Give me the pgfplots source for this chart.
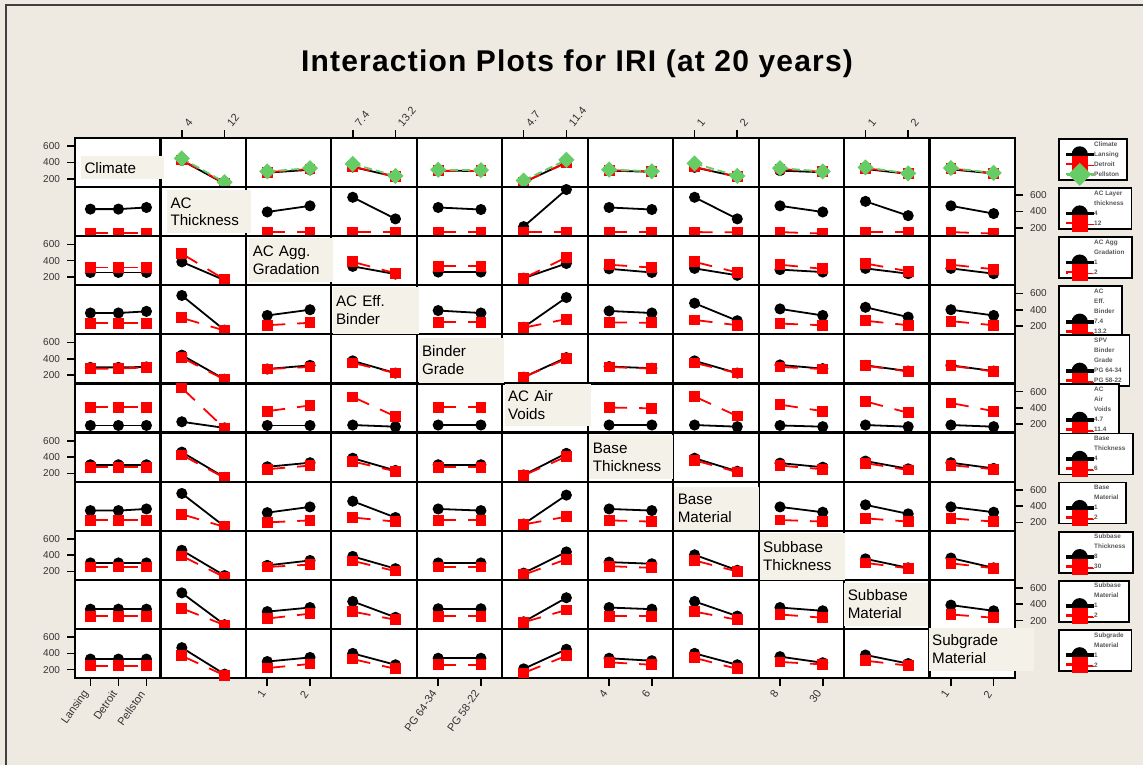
\documentclass[border=0pt]{standalone}
\usepackage{pgfplots}
\pgfplotsset{compat=1.18}
\usepackage{fontspec}
\setmainfont{Liberation Sans}
\newfontfamily\titlefont[LetterSpace=4]{Liberation Sans}
\definecolor{bgc}{HTML}{EEEAE1}
\definecolor{boxc}{HTML}{F4F2E8}
\definecolor{grn}{HTML}{66CC66}
\definecolor{tk}{HTML}{333333}

\pgfplotsset{
  cell/.style={scale only axis, width=42.727pt, height=24.545pt, anchor=north west,
    xmin=0.5, xmax=2.5, ymin=98, ymax=700, xtick=\empty, ytick=\empty,
    axis line style={line width=1.1pt}, axis background/.style={fill=white},
    tick align=outside, major tick length=4pt, tick style={black, line width=0.8pt},
    /pgf/number format/assume math mode=true,
    yticklabel style={font=\fontsize{5}{6}\selectfont, text=tk},
    xticklabel style={font=\fontsize{5.5}{6}\selectfont, text=tk}},
  pos/.style 2 args={at={(37.5pt+42.727pt*#2-42.727pt,-69pt-24.545pt*#1+24.545pt)}},
  c1/.style={xmin=0.45, xmax=3.5},
  yl/.style={ytick={200,400,600}, ytick pos=left, yticklabel pos=left},
  yr/.style={ytick={200,400,600}, ytick pos=right, yticklabel pos=right},
  xt/.style={xtick={1,2}, xticklabels={#1}, xtick pos=right, xticklabel pos=right,
    xticklabel style={rotate=50, anchor=west}},
  xb/.style={xtick={1,2}, xticklabels={#1}, xtick pos=left, xticklabel pos=left,
    xticklabel style={rotate=55, anchor=east}},
  s1/.style={black, line width=0.9pt, mark=*, mark size=2.3pt, mark options={solid}},
  s2/.style={red, line width=0.9pt, dash pattern=on 9pt off 6pt, mark=square*, mark size=2.25pt, mark options={solid}},
  s3/.style={grn, line width=0.9pt, dash pattern=on 4pt off 2pt, mark=square*, mark size=2.4pt, mark options={solid, rotate=45}},
  lg/.style={legend style={at={(1.5,1)}, anchor=north west, draw=black, line width=0.9pt,
      fill=white, font=\fontsize{3.2}{3.2}\selectfont\bfseries, text=black!65,
      inner xsep=3.6pt, inner ysep=1pt, row sep=1.5pt,
      nodes={inner sep=0.3pt, text height=2.3pt, text depth=0.6pt}},
    legend cell align=left,
    legend image code/.code={\path (0pt,-0.5pt) rectangle (13pt,0.5pt);
      \draw[overlay,mark repeat=2,mark phase=2,mark size=3.6pt] plot coordinates {(0pt,0pt) (6.5pt,0pt) (13pt,0pt)};}},
}
\tikzset{lbl/.style={fill=boxc, anchor=north west, inner xsep=1.7pt, inner ysep=0pt, align=left,
  font=\fontsize{7.6}{8.85}\selectfont}}

\begin{document}
\begin{tikzpicture}
\useasboundingbox (0,0) rectangle (571.5pt,-382.5pt);
\fill[bgc] (0,0) rectangle (571.5pt,-382.5pt);
\draw[black!75, line width=0.8pt] (3pt,-382.5pt) -- (3pt,-2.5pt) -- (571.5pt,-2.5pt);
\node[font=\titlefont\bfseries\fontsize{15}{18}\selectfont, anchor=base] at (288.5pt,-35.8pt) {Interaction Plots for IRI (at 20 years)};

% ---------- row 1: Climate
\begin{axis}[cell,pos={1}{1},c1,yl]
\end{axis}
\begin{axis}[cell,pos={1}{2},xt={4,12}]
\addplot[s1] coordinates {(1,425) (2,140)};
\addplot[s2] coordinates {(1,430) (2,145)};
\addplot[s3] coordinates {(1,450) (2,158)};
\end{axis}
\begin{axis}[cell,pos={1}{3}]
\addplot[s1] coordinates {(1,275) (2,310)};
\addplot[s2] coordinates {(1,280) (2,320)};
\addplot[s3] coordinates {(1,290) (2,330)};
\end{axis}
\begin{axis}[cell,pos={1}{4},xt={7.4,13.2}]
\addplot[s1] coordinates {(1,345) (2,225)};
\addplot[s2] coordinates {(1,350) (2,225)};
\addplot[s3] coordinates {(1,382) (2,235)};
\end{axis}
\begin{axis}[cell,pos={1}{5}]
\addplot[s1] coordinates {(1,300) (2,295)};
\addplot[s2] coordinates {(1,300) (2,300)};
\addplot[s3] coordinates {(1,310) (2,305)};
\end{axis}
\begin{axis}[cell,pos={1}{6},xt={4.7,11.4}]
\addplot[s1] coordinates {(1,155) (2,400)};
\addplot[s2] coordinates {(1,160) (2,395)};
\addplot[s3] coordinates {(1,178) (2,432)};
\end{axis}
\begin{axis}[cell,pos={1}{7}]
\addplot[s1] coordinates {(1,300) (2,285)};
\addplot[s2] coordinates {(1,305) (2,290)};
\addplot[s3] coordinates {(1,312) (2,292)};
\end{axis}
\begin{axis}[cell,pos={1}{8},xt={1,2}]
\addplot[s1] coordinates {(1,340) (2,225)};
\addplot[s2] coordinates {(1,345) (2,225)};
\addplot[s3] coordinates {(1,388) (2,235)};
\end{axis}
\begin{axis}[cell,pos={1}{9}]
\addplot[s1] coordinates {(1,300) (2,280)};
\addplot[s2] coordinates {(1,320) (2,285)};
\addplot[s3] coordinates {(1,330) (2,290)};
\end{axis}
\begin{axis}[cell,pos={1}{10},xt={1,2}]
\addplot[s1] coordinates {(1,320) (2,260)};
\addplot[s2] coordinates {(1,330) (2,262)};
\addplot[s3] coordinates {(1,340) (2,265)};
\end{axis}
\begin{axis}[cell,pos={1}{11},lg]
\addlegendimage{empty legend}\addlegendentry{Climate}
\addplot[s1] coordinates {(1,315) (2,265)};\addlegendentry{Lansing}
\addplot[s2] coordinates {(1,325) (2,268)};\addlegendentry{Detroit}
\addplot[s3] coordinates {(1,332) (2,272)};\addlegendentry{Pellston}
\end{axis}

% ---------- row 2: AC Thickness
\begin{axis}[cell,pos={2}{1},c1]
\addplot[s1] coordinates {(1,430) (2,430) (3,450)};
\addplot[s2] coordinates {(1,135) (2,135) (3,135)};
\end{axis}
\begin{axis}[cell,pos={2}{2}]
\end{axis}
\begin{axis}[cell,pos={2}{3}]
\addplot[s1] coordinates {(1,395) (2,470)};
\addplot[s2] coordinates {(1,145) (2,145)};
\end{axis}
\begin{axis}[cell,pos={2}{4}]
\addplot[s1] coordinates {(1,575) (2,310)};
\addplot[s2] coordinates {(1,145) (2,145)};
\end{axis}
\begin{axis}[cell,pos={2}{5}]
\addplot[s1] coordinates {(1,450) (2,425)};
\addplot[s2] coordinates {(1,145) (2,145)};
\end{axis}
\begin{axis}[cell,pos={2}{6}]
\addplot[s1] coordinates {(1,215) (2,670)};
\addplot[s2] coordinates {(1,148) (2,148)};
\end{axis}
\begin{axis}[cell,pos={2}{7}]
\addplot[s1] coordinates {(1,450) (2,425)};
\addplot[s2] coordinates {(1,145) (2,145)};
\end{axis}
\begin{axis}[cell,pos={2}{8}]
\addplot[s1] coordinates {(1,575) (2,310)};
\addplot[s2] coordinates {(1,148) (2,145)};
\end{axis}
\begin{axis}[cell,pos={2}{9}]
\addplot[s1] coordinates {(1,470) (2,395)};
\addplot[s2] coordinates {(1,148) (2,130)};
\end{axis}
\begin{axis}[cell,pos={2}{10}]
\addplot[s1] coordinates {(1,525) (2,350)};
\addplot[s2] coordinates {(1,148) (2,148)};
\end{axis}
\begin{axis}[cell,pos={2}{11},yr,lg]
\addlegendimage{empty legend}\addlegendentry{AC Layer}
\addlegendimage{empty legend}\addlegendentry{thickness}
\addplot[s1] coordinates {(1,470) (2,375)};\addlegendentry{4}
\addplot[s2] coordinates {(1,148) (2,130)};\addlegendentry{12}
\end{axis}

% ---------- row 3: AC Agg. Gradation
\begin{axis}[cell,pos={3}{1},c1,yl]
\addplot[s1] coordinates {(1,255) (2,255) (3,255)};
\addplot[s2] coordinates {(1,315) (2,315) (3,315)};
\end{axis}
\begin{axis}[cell,pos={3}{2}]
\addplot[s1] coordinates {(1,385) (2,160)};
\addplot[s2] coordinates {(1,485) (2,170)};
\end{axis}
\begin{axis}[cell,pos={3}{3}]
\end{axis}
\begin{axis}[cell,pos={3}{4}]
\addplot[s1] coordinates {(1,330) (2,235)};
\addplot[s2] coordinates {(1,385) (2,245)};
\end{axis}
\begin{axis}[cell,pos={3}{5}]
\addplot[s1] coordinates {(1,260) (2,260)};
\addplot[s2] coordinates {(1,330) (2,330)};
\end{axis}
\begin{axis}[cell,pos={3}{6}]
\addplot[s1] coordinates {(1,185) (2,365)};
\addplot[s2] coordinates {(1,185) (2,440)};
\end{axis}
\begin{axis}[cell,pos={3}{7}]
\addplot[s1] coordinates {(1,300) (2,255)};
\addplot[s2] coordinates {(1,350) (2,315)};
\end{axis}
\begin{axis}[cell,pos={3}{8}]
\addplot[s1] coordinates {(1,305) (2,220)};
\addplot[s2] coordinates {(1,385) (2,255)};
\end{axis}
\begin{axis}[cell,pos={3}{9}]
\addplot[s1] coordinates {(1,290) (2,260)};
\addplot[s2] coordinates {(1,350) (2,300)};
\end{axis}
\begin{axis}[cell,pos={3}{10}]
\addplot[s1] coordinates {(1,305) (2,240)};
\addplot[s2] coordinates {(1,365) (2,270)};
\end{axis}
\begin{axis}[cell,pos={3}{11},lg]
\addlegendimage{empty legend}\addlegendentry{AC Agg}
\addlegendimage{empty legend}\addlegendentry{Gradation}
\addplot[s1] coordinates {(1,305) (2,240)};\addlegendentry{1}
\addplot[s2] coordinates {(1,350) (2,295)};\addlegendentry{2}
\end{axis}

% ---------- row 4: AC Eff. Binder
\begin{axis}[cell,pos={4}{1},c1]
\addplot[s1] coordinates {(1,360) (2,360) (3,380)};
\addplot[s2] coordinates {(1,235) (2,235) (3,235)};
\end{axis}
\begin{axis}[cell,pos={4}{2}]
\addplot[s1] coordinates {(1,575) (2,150)};
\addplot[s2] coordinates {(1,300) (2,145)};
\end{axis}
\begin{axis}[cell,pos={4}{3}]
\addplot[s1] coordinates {(1,330) (2,400)};
\addplot[s2] coordinates {(1,210) (2,240)};
\end{axis}
\begin{axis}[cell,pos={4}{4}]
\end{axis}
\begin{axis}[cell,pos={4}{5}]
\addplot[s1] coordinates {(1,390) (2,360)};
\addplot[s2] coordinates {(1,245) (2,245)};
\end{axis}
\begin{axis}[cell,pos={4}{6}]
\addplot[s1] coordinates {(1,185) (2,550)};
\addplot[s2] coordinates {(1,180) (2,285)};
\end{axis}
\begin{axis}[cell,pos={4}{7}]
\addplot[s1] coordinates {(1,385) (2,360)};
\addplot[s2] coordinates {(1,245) (2,240)};
\end{axis}
\begin{axis}[cell,pos={4}{8}]
\addplot[s1] coordinates {(1,480) (2,265)};
\addplot[s2] coordinates {(1,275) (2,210)};
\end{axis}
\begin{axis}[cell,pos={4}{9}]
\addplot[s1] coordinates {(1,410) (2,330)};
\addplot[s2] coordinates {(1,230) (2,210)};
\end{axis}
\begin{axis}[cell,pos={4}{10}]
\addplot[s1] coordinates {(1,430) (2,310)};
\addplot[s2] coordinates {(1,265) (2,210)};
\end{axis}
\begin{axis}[cell,pos={4}{11},yr,lg]
\addlegendimage{empty legend}\addlegendentry{AC}
\addlegendimage{empty legend}\addlegendentry{Eff.}
\addlegendimage{empty legend}\addlegendentry{Binder}
\addplot[s1] coordinates {(1,400) (2,330)};\addlegendentry{7.4}
\addplot[s2] coordinates {(1,260) (2,210)};\addlegendentry{13.2}
\end{axis}

% ---------- row 5: Binder Grade
\begin{axis}[cell,pos={5}{1},c1,yl]
\addplot[s1] coordinates {(1,295) (2,295) (3,300)};
\addplot[s2] coordinates {(1,280) (2,280) (3,295)};
\end{axis}
\begin{axis}[cell,pos={5}{2}]
\addplot[s1] coordinates {(1,445) (2,150)};
\addplot[s2] coordinates {(1,415) (2,145)};
\end{axis}
\begin{axis}[cell,pos={5}{3}]
\addplot[s1] coordinates {(1,275) (2,320)};
\addplot[s2] coordinates {(1,275) (2,300)};
\end{axis}
\begin{axis}[cell,pos={5}{4}]
\addplot[s1] coordinates {(1,375) (2,225)};
\addplot[s2] coordinates {(1,350) (2,225)};
\end{axis}
\begin{axis}[cell,pos={5}{5}]
\end{axis}
\begin{axis}[cell,pos={5}{6}]
\addplot[s1] coordinates {(1,175) (2,415)};
\addplot[s2] coordinates {(1,175) (2,400)};
\end{axis}
\begin{axis}[cell,pos={5}{7}]
\addplot[s1] coordinates {(1,305) (2,285)};
\addplot[s2] coordinates {(1,300) (2,280)};
\end{axis}
\begin{axis}[cell,pos={5}{8}]
\addplot[s1] coordinates {(1,375) (2,225)};
\addplot[s2] coordinates {(1,350) (2,225)};
\end{axis}
\begin{axis}[cell,pos={5}{9}]
\addplot[s1] coordinates {(1,325) (2,280)};
\addplot[s2] coordinates {(1,300) (2,275)};
\end{axis}
\begin{axis}[cell,pos={5}{10}]
\addplot[s1] coordinates {(1,320) (2,250)};
\addplot[s2] coordinates {(1,315) (2,245)};
\end{axis}
\begin{axis}[cell,pos={5}{11},lg]
\addlegendimage{empty legend}\addlegendentry{SPV}
\addlegendimage{empty legend}\addlegendentry{Binder}
\addlegendimage{empty legend}\addlegendentry{Grade}
\addplot[s1] coordinates {(1,320) (2,250)};\addlegendentry{PG 64-34}
\addplot[s2] coordinates {(1,315) (2,245)};\addlegendentry{PG 58-22}
\end{axis}

% ---------- row 6: AC Air Voids
\begin{axis}[cell,pos={6}{1},c1]
\addplot[s1] coordinates {(1,185) (2,185) (3,185)};
\addplot[s2] coordinates {(1,410) (2,410) (3,410)};
\end{axis}
\begin{axis}[cell,pos={6}{2}]
\addplot[s1] coordinates {(1,230) (2,155)};
\addplot[s2] coordinates {(1,645) (2,150)};
\end{axis}
\begin{axis}[cell,pos={6}{3}]
\addplot[s1] coordinates {(1,185) (2,185)};
\addplot[s2] coordinates {(1,360) (2,430)};
\end{axis}
\begin{axis}[cell,pos={6}{4}]
\addplot[s1] coordinates {(1,190) (2,170)};
\addplot[s2] coordinates {(1,535) (2,295)};
\end{axis}
\begin{axis}[cell,pos={6}{5}]
\addplot[s1] coordinates {(1,190) (2,190)};
\addplot[s2] coordinates {(1,410) (2,410)};
\end{axis}
\begin{axis}[cell,pos={6}{6}]
\end{axis}
\begin{axis}[cell,pos={6}{7}]
\addplot[s1] coordinates {(1,190) (2,190)};
\addplot[s2] coordinates {(1,405) (2,395)};
\end{axis}
\begin{axis}[cell,pos={6}{8}]
\addplot[s1] coordinates {(1,190) (2,170)};
\addplot[s2] coordinates {(1,540) (2,300)};
\end{axis}
\begin{axis}[cell,pos={6}{9}]
\addplot[s1] coordinates {(1,185) (2,170)};
\addplot[s2] coordinates {(1,440) (2,360)};
\end{axis}
\begin{axis}[cell,pos={6}{10}]
\addplot[s1] coordinates {(1,190) (2,170)};
\addplot[s2] coordinates {(1,480) (2,340)};
\end{axis}
\begin{axis}[cell,pos={6}{11},yr,lg]
\addlegendimage{empty legend}\addlegendentry{AC}
\addlegendimage{empty legend}\addlegendentry{Air}
\addlegendimage{empty legend}\addlegendentry{Voids}
\addplot[s1] coordinates {(1,190) (2,170)};\addlegendentry{4.7}
\addplot[s2] coordinates {(1,460) (2,360)};\addlegendentry{11.4}
\end{axis}

% ---------- row 7: Base Thickness
\begin{axis}[cell,pos={7}{1},c1,yl]
\addplot[s1] coordinates {(1,305) (2,305) (3,305)};
\addplot[s2] coordinates {(1,275) (2,275) (3,275)};
\end{axis}
\begin{axis}[cell,pos={7}{2}]
\addplot[s1] coordinates {(1,460) (2,150)};
\addplot[s2] coordinates {(1,425) (2,145)};
\end{axis}
\begin{axis}[cell,pos={7}{3}]
\addplot[s1] coordinates {(1,280) (2,330)};
\addplot[s2] coordinates {(1,250) (2,295)};
\end{axis}
\begin{axis}[cell,pos={7}{4}]
\addplot[s1] coordinates {(1,385) (2,235)};
\addplot[s2] coordinates {(1,345) (2,225)};
\end{axis}
\begin{axis}[cell,pos={7}{5}]
\addplot[s1] coordinates {(1,305) (2,305)};
\addplot[s2] coordinates {(1,275) (2,275)};
\end{axis}
\begin{axis}[cell,pos={7}{6}]
\addplot[s1] coordinates {(1,180) (2,445)};
\addplot[s2] coordinates {(1,175) (2,405)};
\end{axis}
\begin{axis}[cell,pos={7}{7}]
\end{axis}
\begin{axis}[cell,pos={7}{8}]
\addplot[s1] coordinates {(1,385) (2,225)};
\addplot[s2] coordinates {(1,360) (2,215)};
\end{axis}
\begin{axis}[cell,pos={7}{9}]
\addplot[s1] coordinates {(1,325) (2,275)};
\addplot[s2] coordinates {(1,295) (2,250)};
\end{axis}
\begin{axis}[cell,pos={7}{10}]
\addplot[s1] coordinates {(1,350) (2,255)};
\addplot[s2] coordinates {(1,325) (2,240)};
\end{axis}
\begin{axis}[cell,pos={7}{11},lg]
\addlegendimage{empty legend}\addlegendentry{Base}
\addlegendimage{empty legend}\addlegendentry{Thickness}
\addplot[s1] coordinates {(1,330) (2,260)};\addlegendentry{4}
\addplot[s2] coordinates {(1,300) (2,250)};\addlegendentry{6}
\end{axis}

% ---------- row 8: Base Material
\begin{axis}[cell,pos={8}{1},c1]
\addplot[s1] coordinates {(1,345) (2,345) (3,365)};
\addplot[s2] coordinates {(1,225) (2,225) (3,225)};
\end{axis}
\begin{axis}[cell,pos={8}{2}]
\addplot[s1] coordinates {(1,555) (2,150)};
\addplot[s2] coordinates {(1,300) (2,145)};
\end{axis}
\begin{axis}[cell,pos={8}{3}]
\addplot[s1] coordinates {(1,320) (2,390)};
\addplot[s2] coordinates {(1,200) (2,225)};
\end{axis}
\begin{axis}[cell,pos={8}{4}]
\addplot[s1] coordinates {(1,460) (2,260)};
\addplot[s2] coordinates {(1,260) (2,210)};
\end{axis}
\begin{axis}[cell,pos={8}{5}]
\addplot[s1] coordinates {(1,365) (2,345)};
\addplot[s2] coordinates {(1,225) (2,225)};
\end{axis}
\begin{axis}[cell,pos={8}{6}]
\addplot[s1] coordinates {(1,180) (2,535)};
\addplot[s2] coordinates {(1,175) (2,270)};
\end{axis}
\begin{axis}[cell,pos={8}{7}]
\addplot[s1] coordinates {(1,365) (2,345)};
\addplot[s2] coordinates {(1,225) (2,210)};
\end{axis}
\begin{axis}[cell,pos={8}{8}]
\end{axis}
\begin{axis}[cell,pos={8}{9}]
\addplot[s1] coordinates {(1,390) (2,325)};
\addplot[s2] coordinates {(1,230) (2,210)};
\end{axis}
\begin{axis}[cell,pos={8}{10}]
\addplot[s1] coordinates {(1,415) (2,305)};
\addplot[s2] coordinates {(1,250) (2,210)};
\end{axis}
\begin{axis}[cell,pos={8}{11},yr,lg]
\addlegendimage{empty legend}\addlegendentry{Base}
\addlegendimage{empty legend}\addlegendentry{Material}
\addplot[s1] coordinates {(1,390) (2,325)};\addlegendentry{1}
\addplot[s2] coordinates {(1,250) (2,210)};\addlegendentry{2}
\end{axis}

% ---------- row 9: Subbase Thickness
\begin{axis}[cell,pos={9}{1},c1,yl]
\addplot[s1] coordinates {(1,305) (2,305) (3,305)};
\addplot[s2] coordinates {(1,255) (2,255) (3,255)};
\end{axis}
\begin{axis}[cell,pos={9}{2}]
\addplot[s1] coordinates {(1,460) (2,150)};
\addplot[s2] coordinates {(1,390) (2,130)};
\end{axis}
\begin{axis}[cell,pos={9}{3}]
\addplot[s1] coordinates {(1,275) (2,335)};
\addplot[s2] coordinates {(1,255) (2,285)};
\end{axis}
\begin{axis}[cell,pos={9}{4}]
\addplot[s1] coordinates {(1,385) (2,235)};
\addplot[s2] coordinates {(1,330) (2,205)};
\end{axis}
\begin{axis}[cell,pos={9}{5}]
\addplot[s1] coordinates {(1,305) (2,305)};
\addplot[s2] coordinates {(1,255) (2,255)};
\end{axis}
\begin{axis}[cell,pos={9}{6}]
\addplot[s1] coordinates {(1,180) (2,440)};
\addplot[s2] coordinates {(1,160) (2,350)};
\end{axis}
\begin{axis}[cell,pos={9}{7}]
\addplot[s1] coordinates {(1,315) (2,295)};
\addplot[s2] coordinates {(1,265) (2,245)};
\end{axis}
\begin{axis}[cell,pos={9}{8}]
\addplot[s1] coordinates {(1,405) (2,215)};
\addplot[s2] coordinates {(1,335) (2,200)};
\end{axis}
\begin{axis}[cell,pos={9}{9}]
\end{axis}
\begin{axis}[cell,pos={9}{10}]
\addplot[s1] coordinates {(1,355) (2,245)};
\addplot[s2] coordinates {(1,305) (2,240)};
\end{axis}
\begin{axis}[cell,pos={9}{11},lg]
\addlegendimage{empty legend}\addlegendentry{Subbase}
\addlegendimage{empty legend}\addlegendentry{Thickness}
\addplot[s1] coordinates {(1,365) (2,245)};\addlegendentry{8}
\addplot[s2] coordinates {(1,300) (2,240)};\addlegendentry{30}
\end{axis}

% ---------- row 10: Subbase Material
\begin{axis}[cell,pos={10}{1},c1]
\addplot[s1] coordinates {(1,340) (2,340) (3,340)};
\addplot[s2] coordinates {(1,255) (2,255) (3,255)};
\end{axis}
\begin{axis}[cell,pos={10}{2}]
\addplot[s1] coordinates {(1,540) (2,150)};
\addplot[s2] coordinates {(1,350) (2,145)};
\end{axis}
\begin{axis}[cell,pos={10}{3}]
\addplot[s1] coordinates {(1,310) (2,360)};
\addplot[s2] coordinates {(1,225) (2,285)};
\end{axis}
\begin{axis}[cell,pos={10}{4}]
\addplot[s1] coordinates {(1,435) (2,240)};
\addplot[s2] coordinates {(1,310) (2,210)};
\end{axis}
\begin{axis}[cell,pos={10}{5}]
\addplot[s1] coordinates {(1,345) (2,345)};
\addplot[s2] coordinates {(1,255) (2,255)};
\end{axis}
\begin{axis}[cell,pos={10}{6}]
\addplot[s1] coordinates {(1,185) (2,480)};
\addplot[s2] coordinates {(1,180) (2,330)};
\end{axis}
\begin{axis}[cell,pos={10}{7}]
\addplot[s1] coordinates {(1,360) (2,340)};
\addplot[s2] coordinates {(1,255) (2,255)};
\end{axis}
\begin{axis}[cell,pos={10}{8}]
\addplot[s1] coordinates {(1,435) (2,255)};
\addplot[s2] coordinates {(1,310) (2,210)};
\end{axis}
\begin{axis}[cell,pos={10}{9}]
\addplot[s1] coordinates {(1,360) (2,320)};
\addplot[s2] coordinates {(1,275) (2,235)};
\end{axis}
\begin{axis}[cell,pos={10}{10}]
\end{axis}
\begin{axis}[cell,pos={10}{11},yr,lg]
\addlegendimage{empty legend}\addlegendentry{Subbase}
\addlegendimage{empty legend}\addlegendentry{Material}
\addplot[s1] coordinates {(1,390) (2,320)};\addlegendentry{1}
\addplot[s2] coordinates {(1,275) (2,235)};\addlegendentry{2}
\end{axis}

% ---------- row 11: Subgrade Material
\begin{axis}[cell,pos={11}{1},c1,yl,xtick={1,2,3},xticklabels={Lansing,Detroit,Pellston},
  xtick pos=left,xticklabel pos=left,xticklabel style={rotate=55,anchor=east}]
\addplot[s1] coordinates {(1,330) (2,330) (3,330)};
\addplot[s2] coordinates {(1,250) (2,250) (3,250)};
\end{axis}
\begin{axis}[cell,pos={11}{2}]
\addplot[s1] coordinates {(1,470) (2,145)};
\addplot[s2] coordinates {(1,370) (2,130)};
\end{axis}
\begin{axis}[cell,pos={11}{3},xb={1,2}]
\addplot[s1] coordinates {(1,300) (2,350)};
\addplot[s2] coordinates {(1,220) (2,270)};
\end{axis}
\begin{axis}[cell,pos={11}{4}]
\addplot[s1] coordinates {(1,400) (2,260)};
\addplot[s2] coordinates {(1,330) (2,210)};
\end{axis}
\begin{axis}[cell,pos={11}{5},xb={PG 64-34,PG 58-22}]
\addplot[s1] coordinates {(1,340) (2,340)};
\addplot[s2] coordinates {(1,260) (2,260)};
\end{axis}
\begin{axis}[cell,pos={11}{6}]
\addplot[s1] coordinates {(1,210) (2,450)};
\addplot[s2] coordinates {(1,160) (2,370)};
\end{axis}
\begin{axis}[cell,pos={11}{7},xb={4,6}]
\addplot[s1] coordinates {(1,340) (2,310)};
\addplot[s2] coordinates {(1,290) (2,260)};
\end{axis}
\begin{axis}[cell,pos={11}{8}]
\addplot[s1] coordinates {(1,400) (2,260)};
\addplot[s2] coordinates {(1,345) (2,210)};
\end{axis}
\begin{axis}[cell,pos={11}{9},xb={8,30}]
\addplot[s1] coordinates {(1,360) (2,285)};
\addplot[s2] coordinates {(1,295) (2,265)};
\end{axis}
\begin{axis}[cell,pos={11}{10}]
\addplot[s1] coordinates {(1,380) (2,275)};
\addplot[s2] coordinates {(1,310) (2,250)};
\end{axis}
\begin{axis}[cell,pos={11}{11},xb={1,2},lg]
\addlegendimage{empty legend}\addlegendentry{Subgrade}
\addlegendimage{empty legend}\addlegendentry{Material}
\addlegendimage{s1}\addlegendentry{1}
\addlegendimage{s2}\addlegendentry{2}
\end{axis}

% diagonal labels
\node[lbl,text width=38.1pt,minimum height=11.5pt] at (40.35pt,-78pt) {Climate};
\node[lbl,text width=38.6pt,minimum height=21.5pt] at (83.35pt,-95pt) {AC\\Thickness};
\node[lbl,text width=38.6pt,minimum height=22pt] at (124.5pt,-119pt) {AC Agg.\\Gradation};
\node[lbl,text width=39.6pt,minimum height=23.3pt] at (166.15pt,-143.35pt) {AC Eff.\\Binder};
\node[lbl,text width=39.1pt,minimum height=22.5pt] at (209.15pt,-168.65pt) {Binder\\Grade};
\node[lbl,text width=39.6pt,minimum height=21.25pt] at (252.15pt,-191.75pt) {AC Air\\Voids};
\node[lbl,text width=38.6pt,minimum height=22pt] at (294.5pt,-217.5pt) {Base\\Thickness};
\node[lbl,text width=39.1pt,minimum height=21.3pt] at (337pt,-243.35pt) {Base\\Material};
\node[lbl,text width=39.1pt,minimum height=23.3pt] at (379.65pt,-266.35pt) {Subbase\\Thickness};
\node[lbl,text width=38.6pt,minimum height=21.2pt] at (422pt,-291.35pt) {Subbase\\Material};
\node[lbl,text width=49.1pt,minimum height=21.5pt] at (464.15pt,-313.65pt) {Subgrade\\Material};
\end{tikzpicture}
\end{document}
